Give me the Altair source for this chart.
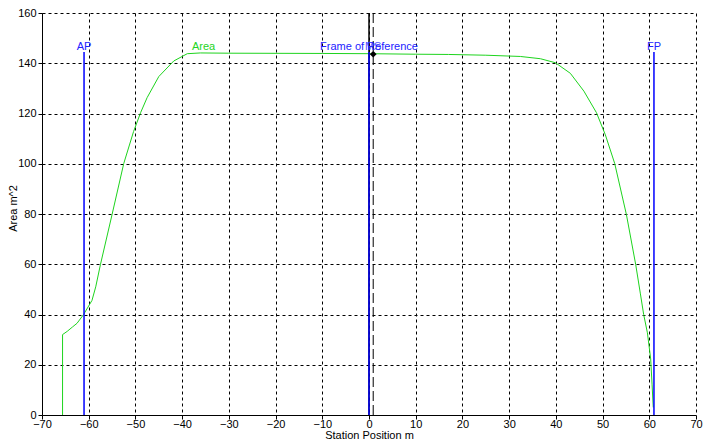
import altair as alt
import pandas as pd

# ---- data ----
curve_x = [-65.6, -65.6, -64.6, -63.5, -62.5, -61.1, -59.3, -58.5, -57.5, -55.0, -52.5,
           -50.4, -48.9, -47.5, -45.0, -41.8, -38.9, -36.1, -30.0, -10.0, 0.0, 10.0,
           17.0, 25.0, 32.4, 36.7, 39.9, 43.1, 46.0, 48.7, 50.6, 52.6, 55.1, 57.1,
           58.1, 58.8, 59.6, 60.3, 60.6, 60.85]
curve_y = [0.0, 32.0, 33.3, 35.0, 36.5, 40.0, 45.6, 51.0, 59.8, 79.8, 100.1,
           112.8, 120.3, 126.3, 134.7, 140.9, 143.8, 144.1, 144.0, 143.9, 143.8, 143.6,
           143.5, 143.2, 142.7, 141.8, 140.2, 136.0, 128.9, 120.3, 111.5, 100.1, 79.8, 59.8,
           48.2, 40.0, 32.7, 22.3, 12.0, 3.0]

station_x = [-61.0, 0.0, 61.0]
station_label = ["AP", "Frame of Reference", "FP"]
station_top = 144.5
label_y = 145.3

ms_x = 0.9
ms_y = 143.6
ms_label = "MS"

area_label = "Area"
area_label_x = -37.9

x_ticks = [-70, -60, -50, -40, -30, -20, -10, 0, 10, 20, 30, 40, 50, 60, 70]
y_ticks = [0, 20, 40, 60, 80, 100, 120, 140, 160]

GREEN = "#1ed41e"
BLUE = "#0000ff"
LBLUE = "#2222ff"
FONT = "Liberation Sans"

curve = pd.DataFrame({"x": curve_x, "y": curve_y, "i": list(range(len(curve_x)))})
stations = pd.DataFrame({"x": station_x, "y": [0.0] * 3, "y2": [station_top] * 3,
                         "label": station_label, "ly": [label_y] * 3})
frame = pd.DataFrame({"x": [0.0], "y": [0.0], "y2": [160.0]})
ms = pd.DataFrame({"x": [ms_x], "y": [0.0], "y2": [160.0], "py": [ms_y],
                   "label": [ms_label], "ly": [label_y]})
area_lab = pd.DataFrame({"x": [area_label_x], "ly": [label_y], "label": [area_label]})

xscale = alt.Scale(domain=[-70, 70], nice=False, zero=False)
yscale = alt.Scale(domain=[0, 160], nice=False)

xaxis = alt.Axis(values=x_ticks, title="Station Position  m", format="d",
                 tickSize=4, labelPadding=-1, titlePadding=0, labelFlush=False)
yaxis = alt.Axis(values=y_ticks, title="Area  m^2", format="d",
                 tickSize=4, labelPadding=2, titleX=-29, titleY=195,
                 titleBaseline="middle", labelFlush=False)

X = alt.X("x:Q", scale=xscale, axis=xaxis)
Y = alt.Y("y:Q", scale=yscale, axis=yaxis)

line = alt.Chart(curve).mark_line(color=GREEN, strokeWidth=1, clip=True).encode(
    x=X, y=Y, order="i:Q")

frame_rule = alt.Chart(frame).mark_rule(color="black", strokeWidth=1.5).encode(
    x=X, y=Y, y2="y2:Q")

ms_rule = alt.Chart(ms).mark_rule(color="black", strokeWidth=1, strokeDash=[10, 4]).encode(
    x=X, y=Y, y2="y2:Q")

station_rules = alt.Chart(stations).mark_rule(color=BLUE, strokeWidth=1.5).encode(
    x=X, y=Y, y2="y2:Q")

station_text = alt.Chart(stations).mark_text(
    color=LBLUE, font=FONT, fontSize=11, baseline="alphabetic", align="center").encode(
    x=X, y=alt.Y("ly:Q", scale=yscale, axis=yaxis), text="label:N")

ms_text = alt.Chart(ms).mark_text(
    color=LBLUE, font=FONT, fontSize=11, baseline="alphabetic", align="center", opacity=0.8).encode(
    x=X, y=alt.Y("ly:Q", scale=yscale, axis=yaxis), text="label:N")

ms_point = alt.Chart(ms).mark_point(shape="diamond", filled=True, color="black",
                                     size=45, opacity=1).encode(
    x=X, y=alt.Y("py:Q", scale=yscale, axis=yaxis))

area_text = alt.Chart(area_lab).mark_text(
    color=GREEN, font=FONT, fontSize=11, baseline="alphabetic", align="left").encode(
    x=X, y=alt.Y("ly:Q", scale=yscale, axis=yaxis), text="label:N")

chart = alt.layer(
    line, frame_rule, ms_rule, station_rules, ms_point, station_text, ms_text, area_text
).properties(
    width=654, height=402,
    autosize=alt.AutoSizeParams(type="none"),
    padding={"left": 34, "top": 5, "right": 11, "bottom": 25},
    background="white",
).configure_view(
    strokeWidth=0
).configure_axis(
    grid=True, gridColor="black", gridDash=[3, 3], gridOpacity=1, gridWidth=1,
    domainColor="black", domainWidth=1, tickColor="black", tickWidth=1,
    labelColor="black", labelFont=FONT, labelFontSize=11,
    titleColor="black", titleFont=FONT, titleFontSize=11, titleFontWeight="normal",
)

chart.save("out.html", embed_options={"renderer": "svg", "actions": False})
